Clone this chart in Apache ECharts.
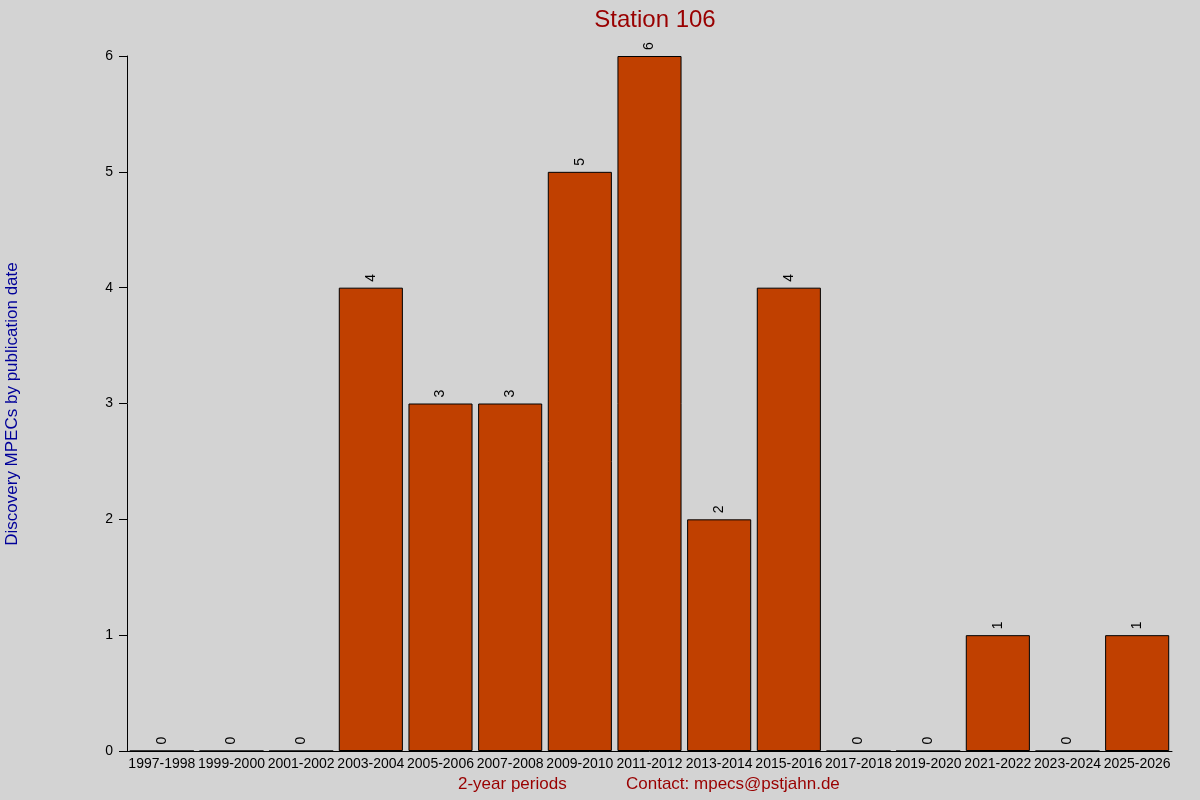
<!DOCTYPE html>
<html><head><meta charset="utf-8">
<script src="https://cdn.jsdelivr.net/npm/echarts@6/dist/echarts.min.js"></script>
<style>html,body{margin:0;padding:0;background:#d3d3d3}#c{width:1200px;height:800px}</style>
</head><body><div id="c"></div>
<script>
const categories = ["1997-1998","1999-2000","2001-2002","2003-2004","2005-2006","2007-2008","2009-2010","2011-2012","2013-2014","2015-2016","2017-2018","2019-2020","2021-2022","2023-2024","2025-2026"];
const values = [0,0,0,4,3,3,5,6,2,4,0,0,1,0,1];
const chart = echarts.init(document.getElementById('c'));
chart.setOption({
  backgroundColor:'#d3d3d3',
  animation:false,
  title:{text:'Station 106',left:650,top:3,textAlign:'center',textStyle:{color:'#990000',fontSize:24,fontWeight:'normal',fontFamily:'Liberation Sans'}},
  grid:{left:127,right:28,top:56,bottom:49},
  xAxis:{type:'category',data:categories,
    axisLine:{lineStyle:{color:'#000'}},axisTick:{show:false},
    axisLabel:{color:'#000',fontSize:14,fontFamily:'Liberation Sans',interval:0,margin:6}},
  yAxis:{type:'value',min:0,max:6,interval:1,
    axisLine:{show:true,lineStyle:{color:'#000'}},axisTick:{show:true,length:8,lineStyle:{color:'#000'}},
    splitLine:{show:false},
    axisLabel:{color:'#000',fontSize:14,fontFamily:'Liberation Sans',margin:14}},
  graphic:[
    {type:'text',left:458,top:776,style:{text:'2-year periods',fill:'#990000',font:'17px Liberation Sans'}},
    {type:'text',left:626,top:776,style:{text:'Contact: mpecs@pstjahn.de',fill:'#990000',font:'17px Liberation Sans'}},
    {type:'text',x:4,y:404,rotation:Math.PI/2,style:{text:'Discovery MPECs by publication date',fill:'#000099',font:'17px Liberation Sans',align:'center',verticalAlign:'top'}}
  ],
  series:[{type:'bar',data:values,barCategoryGap:'8%',
    itemStyle:{color:'#c04000',borderColor:'#000',borderWidth:1},
    label:{show:true,position:'top',rotate:90,align:'left',verticalAlign:'middle',distance:6,color:'#000',fontSize:14,fontFamily:'Liberation Sans'}}]
});
</script></body></html>
